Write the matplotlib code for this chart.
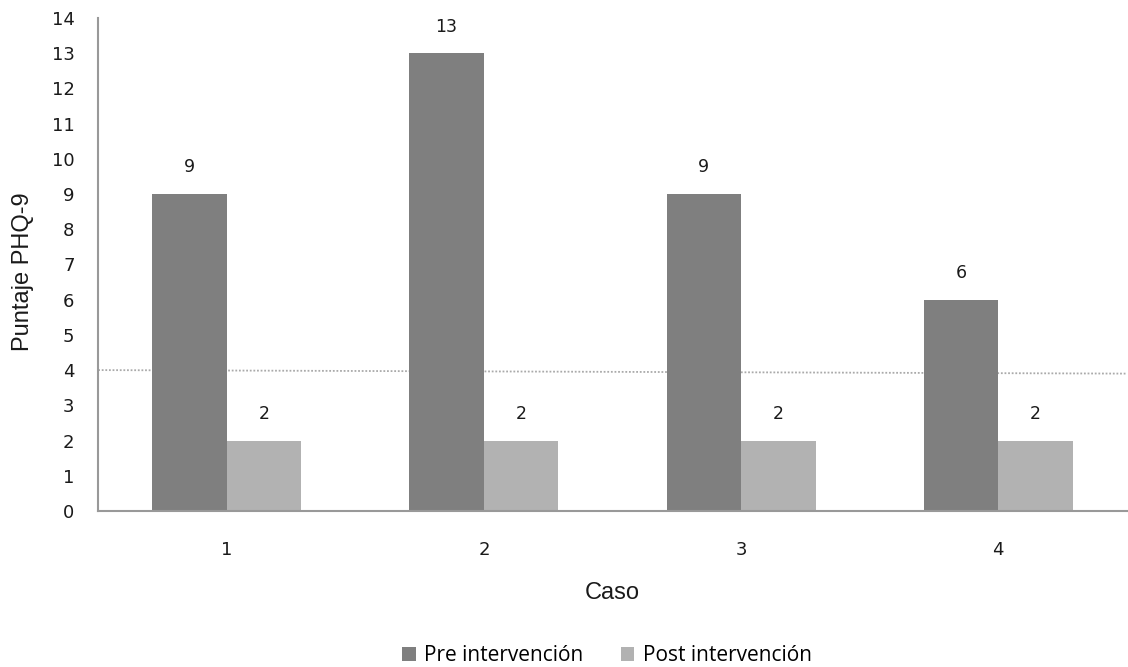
import numpy as np
import matplotlib.pyplot as plt

casos = ["1", "2", "3", "4"]
pre = [9, 13, 9, 6]
post = [2, 2, 2, 2]
corte = 4

fig = plt.figure(figsize=(11.28, 6.67), dpi=100)
ax = fig.add_axes([0.087, 0.234, 0.912, 0.739])

x = np.arange(len(casos))
w = 0.29
b1 = ax.bar(x - w / 2, pre, w, color="#7f7f7f", label="Pre intervención")
b2 = ax.bar(x + w / 2, post, w, color="#b2b2b2", label="Post intervención")

for bars in (b1, b2):
    for r in bars:
        ax.text(r.get_x() + r.get_width() / 2, r.get_height() + 0.5, f"{r.get_height():g}",
                ha="center", va="bottom", fontsize=12.5, family="DejaVu Sans", color="#1a1a1a")

# linea de corte
ax.plot([-0.5, 3.5], [corte, corte - 0.1], color="#aaaaaa", lw=1.3, ls=(0, (1, 1)), zorder=0)

ax.set_xlim(-0.5, 3.5)
ax.set_ylim(0, 14)
ax.set_yticks(range(0, 15))
ax.set_xticks(x)
ax.set_xticklabels(casos)
ax.tick_params(length=0, labelsize=13, colors="#1a1a1a")
ax.tick_params(axis="y", pad=17)
ax.tick_params(axis="x", pad=22)
for lab in ax.get_xticklabels() + ax.get_yticklabels():
    lab.set_family("DejaVu Sans")
for s in ("top", "right"):
    ax.spines[s].set_visible(False)
for s in ("left", "bottom"):
    ax.spines[s].set_color("#999999")
    ax.spines[s].set_linewidth(1.5)

ax.set_xlabel("Caso", fontsize=17, family="Liberation Sans", labelpad=16, color="#1a1a1a")
ax.set_ylabel("Puntaje PHQ-9", fontsize=17, family="Liberation Sans", color="#1a1a1a")
ax.yaxis.set_label_coords(-0.062, 0.485)

fig.legend(loc="lower center", bbox_to_anchor=(0.538, -0.027), ncol=2, frameon=False,
           prop={"family": "Open Sans", "size": 15},
           handlelength=0.65, handleheight=0.65, columnspacing=1.8, handletextpad=0.4)

fig.savefig("out.png", dpi=100)
